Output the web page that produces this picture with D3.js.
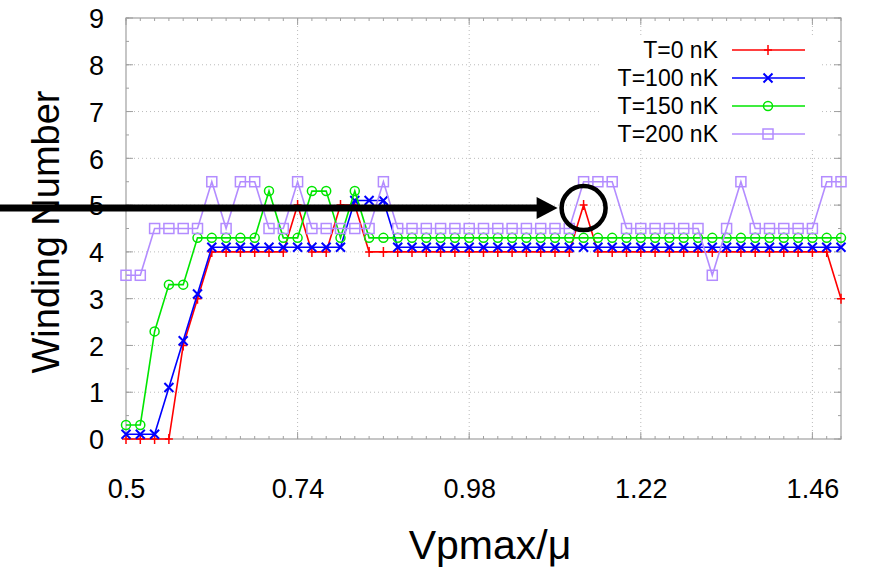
<!DOCTYPE html>
<html>
<head>
<meta charset="utf-8">
<script src="https://cdn.jsdelivr.net/npm/d3@7"></script>
<style>
  html, body { margin: 0; padding: 0; background: #fff; }
  svg { display: block; font-family: "Liberation Sans", Arial, sans-serif; }
</style>
</head>
<body>
<svg id="chart" width="869" height="569"></svg>
<script>
// ---- data ----
const xValues = [0.50,0.52,0.54,0.56,0.58,0.60,0.62,0.64,0.66,0.68,
                 0.70,0.72,0.74,0.76,0.78,0.80,0.82,0.84,0.86,0.88,
                 0.90,0.92,0.94,0.96,0.98,1.00,1.02,1.04,1.06,1.08,
                 1.10,1.12,1.14,1.16,1.18,1.20,1.22,1.24,1.26,1.28,
                 1.30,1.32,1.34,1.36,1.38,1.40,1.42,1.44,1.46,1.48,1.50];
const seriesNames = ["T=0 nK", "T=100 nK", "T=150 nK", "T=200 nK"];
const t0 = [0,0,0,0,2,3,4,4,4,4,
            4,4,5,4,4,5,5,4,4,4,
            4,4,4,4,4,4,4,4,4,4,
            4,4,5,4,4,4,4,4,4,4,
            4,4,4,4,4,4,4,4,4,4,3];
const t100 = [0.1,0.1,0.1,1.1,2.1,3.1,4.1,4.1,4.1,4.1,
              4.1,4.1,4.1,4.1,4.1,4.1,5.1,5.1,5.1,4.1,
              4.1,4.1,4.1,4.1,4.1,4.1,4.1,4.1,4.1,4.1,
              4.1,4.1,4.1,4.1,4.1,4.1,4.1,4.1,4.1,4.1,
              4.1,4.1,4.1,4.1,4.1,4.1,4.1,4.1,4.1,4.1,4.1];
const t150 = [0.3,0.3,2.3,3.3,3.3,4.3,4.3,4.3,4.3,4.3,
              5.3,4.3,4.3,5.3,5.3,4.3,5.3,4.3,4.3,4.3,
              4.3,4.3,4.3,4.3,4.3,4.3,4.3,4.3,4.3,4.3,
              4.3,4.3,4.3,4.3,4.3,4.3,4.3,4.3,4.3,4.3,
              4.3,4.3,4.3,4.3,4.3,4.3,4.3,4.3,4.3,4.3,4.3];
const t200 = [3.5,3.5,4.5,4.5,4.5,4.5,5.5,4.5,5.5,5.5,
              4.5,4.5,5.5,4.5,4.5,4.5,4.5,4.5,5.5,4.5,
              4.5,4.5,4.5,4.5,4.5,4.5,4.5,4.5,4.5,4.5,
              4.5,4.5,5.5,5.5,5.5,4.5,4.5,4.5,4.5,4.5,
              4.5,3.5,4.5,5.5,4.5,4.5,4.5,4.5,4.5,5.5,5.5];
const xTicks = [0.5, 0.74, 0.98, 1.22, 1.46];
const yTicks = [0,1,2,3,4,5,6,7,8,9];
const xLabel = "Vpmax/\u03bc";
const yLabel = "Winding Number";
const annotX = 1.14;   // highlighted point
const annotY = 5;

// ---- layout ----
const svg = d3.select("#chart");
const L = 126, R = 841, T = 18, B = 439;
const x = d3.scaleLinear().domain([0.5, 1.5]).range([L, R]);
const y = d3.scaleLinear().domain([0, 9]).range([B, T]);

const colors = ["#ff0000", "#0000ff", "#00e600", "#b38cff"];
const markers = ["plus", "cross", "circle", "square"];
const allSeries = [t0, t100, t150, t200];

// grid
const grid = svg.append("g");
grid.selectAll("line.gx").data(xTicks.slice(1)).join("line")
  .attr("x1", d => x(d)).attr("x2", d => x(d)).attr("y1", T).attr("y2", B)
  .attr("stroke", "#bbbbbb").attr("stroke-width", 1).attr("stroke-dasharray", "1,3");
grid.selectAll("line.gy").data(yTicks.slice(1, -1)).join("line")
  .attr("x1", L).attr("x2", R).attr("y1", d => y(d)).attr("y2", d => y(d))
  .attr("stroke", "#bbbbbb").attr("stroke-width", 1).attr("stroke-dasharray", "1,3");

// minor ticks
const minorX = xValues;
const tk = svg.append("g").attr("stroke", "#a0a0a0").attr("stroke-width", 1);
tk.selectAll("line.mxb").data(minorX).join("line")
  .attr("x1", d => x(d)).attr("x2", d => x(d)).attr("y1", B).attr("y2", B - 3);
tk.selectAll("line.mxt").data(minorX).join("line")
  .attr("x1", d => x(d)).attr("x2", d => x(d)).attr("y1", T).attr("y2", T + 3);
tk.selectAll("line.Mxb").data(xTicks).join("line")
  .attr("x1", d => x(d)).attr("x2", d => x(d)).attr("y1", B).attr("y2", B - 7);
tk.selectAll("line.Mxt").data(xTicks).join("line")
  .attr("x1", d => x(d)).attr("x2", d => x(d)).attr("y1", T).attr("y2", T + 7);
const minorY = d3.range(0, 9.01, 0.5);
tk.selectAll("line.myl").data(minorY).join("line")
  .attr("x1", L).attr("x2", L + 3).attr("y1", d => y(d)).attr("y2", d => y(d));
tk.selectAll("line.myr").data(minorY).join("line")
  .attr("x1", R).attr("x2", R - 3).attr("y1", d => y(d)).attr("y2", d => y(d));
tk.selectAll("line.Myl").data(yTicks).join("line")
  .attr("x1", L).attr("x2", L + 7).attr("y1", d => y(d)).attr("y2", d => y(d));
tk.selectAll("line.Myr").data(yTicks).join("line")
  .attr("x1", R).attr("x2", R - 7).attr("y1", d => y(d)).attr("y2", d => y(d));

// border
svg.append("rect").attr("x", L).attr("y", T).attr("width", R - L).attr("height", B - T)
  .attr("fill", "none").attr("stroke", "#a0a0a0").attr("stroke-width", 1.2);

// axes labels via d3 axes
const xAxis = svg.append("g").attr("transform", `translate(0,${B})`)
  .call(d3.axisBottom(x).tickValues(xTicks).tickSize(0).tickPadding(59).tickFormat(d3.format("")));
xAxis.select(".domain").remove();
xAxis.selectAll("text").attr("font-size", 27).attr("fill", "#000")
  .attr("font-family", "Liberation Sans, Arial, sans-serif").attr("dy", 0);

const yAxis = svg.append("g").attr("transform", `translate(${L},0)`)
  .call(d3.axisLeft(y).tickValues(yTicks).tickSize(0).tickPadding(22).tickFormat(d3.format("d")));
yAxis.select(".domain").remove();
yAxis.selectAll("text").attr("font-size", 27).attr("fill", "#000")
  .attr("font-family", "Liberation Sans, Arial, sans-serif").attr("dy", "0.36em");

svg.append("text").attr("x", 490).attr("y", 559).attr("text-anchor", "middle")
  .attr("font-size", 41).text(xLabel);
svg.append("text").attr("transform", "translate(59,232) rotate(-90)")
  .attr("text-anchor", "middle").attr("font-size", 38).text(yLabel);

// markers
function drawMarker(g, type, cx, cy, color) {
  if (type === "plus") {
    g.append("path").attr("d", `M${cx-4},${cy}H${cx+4}M${cx},${cy-5}V${cy+5}`)
      .attr("stroke", color).attr("stroke-width", 1.5).attr("fill", "none");
  } else if (type === "cross") {
    g.append("path").attr("d", `M${cx-4.5},${cy-4.5}L${cx+4.5},${cy+4.5}M${cx-4.5},${cy+4.5}L${cx+4.5},${cy-4.5}`)
      .attr("stroke", color).attr("stroke-width", 2).attr("fill", "none");
  } else if (type === "circle") {
    g.append("circle").attr("cx", cx).attr("cy", cy).attr("r", 4.5)
      .attr("stroke", color).attr("stroke-width", 1.5).attr("fill", "none");
  } else {
    g.append("rect").attr("x", cx - 5).attr("y", cy - 5).attr("width", 10).attr("height", 10)
      .attr("stroke", color).attr("stroke-width", 1.5).attr("fill", "none");
  }
}

const line = d3.line().x((d, i) => x(xValues[i])).y(d => y(d));
allSeries.forEach((vals, k) => {
  const g = svg.append("g");
  g.append("path").datum(vals).attr("d", line).attr("fill", "none")
    .attr("stroke", colors[k]).attr("stroke-width", 1.6);
  vals.forEach((v, i) => drawMarker(g, markers[k], x(xValues[i]), y(v), colors[k]));
});

// legend (opaque)
svg.append("rect").attr("x", 600).attr("y", 35).attr("width", 222).attr("height", 113).attr("fill", "#fff");
seriesNames.forEach((name, k) => {
  const ly = 50 + k * 28;
  svg.append("text").attr("x", 718).attr("y", ly).attr("dy", "0.36em")
    .attr("text-anchor", "end").attr("font-size", 23).text(name);
  svg.append("line").attr("x1", 732).attr("x2", 805).attr("y1", ly).attr("y2", ly)
    .attr("stroke", colors[k]).attr("stroke-width", 1.6);
  drawMarker(svg, markers[k], 768, ly, colors[k]);
});

// annotation: arrow and circle
const ay = y(annotY) + 3;
const cx = x(annotX);
svg.append("line").attr("x1", 0).attr("x2", cx - 46).attr("y1", ay).attr("y2", ay)
  .attr("stroke", "#000").attr("stroke-width", 7);
svg.append("path")
  .attr("d", `M${cx-26},${ay}L${cx-47},${ay-11}L${cx-47},${ay+11}Z`).attr("fill", "#000");
svg.append("circle").attr("cx", cx).attr("cy", ay).attr("r", 22)
  .attr("fill", "none").attr("stroke", "#000").attr("stroke-width", 4.5);
</script>
</body>
</html>
